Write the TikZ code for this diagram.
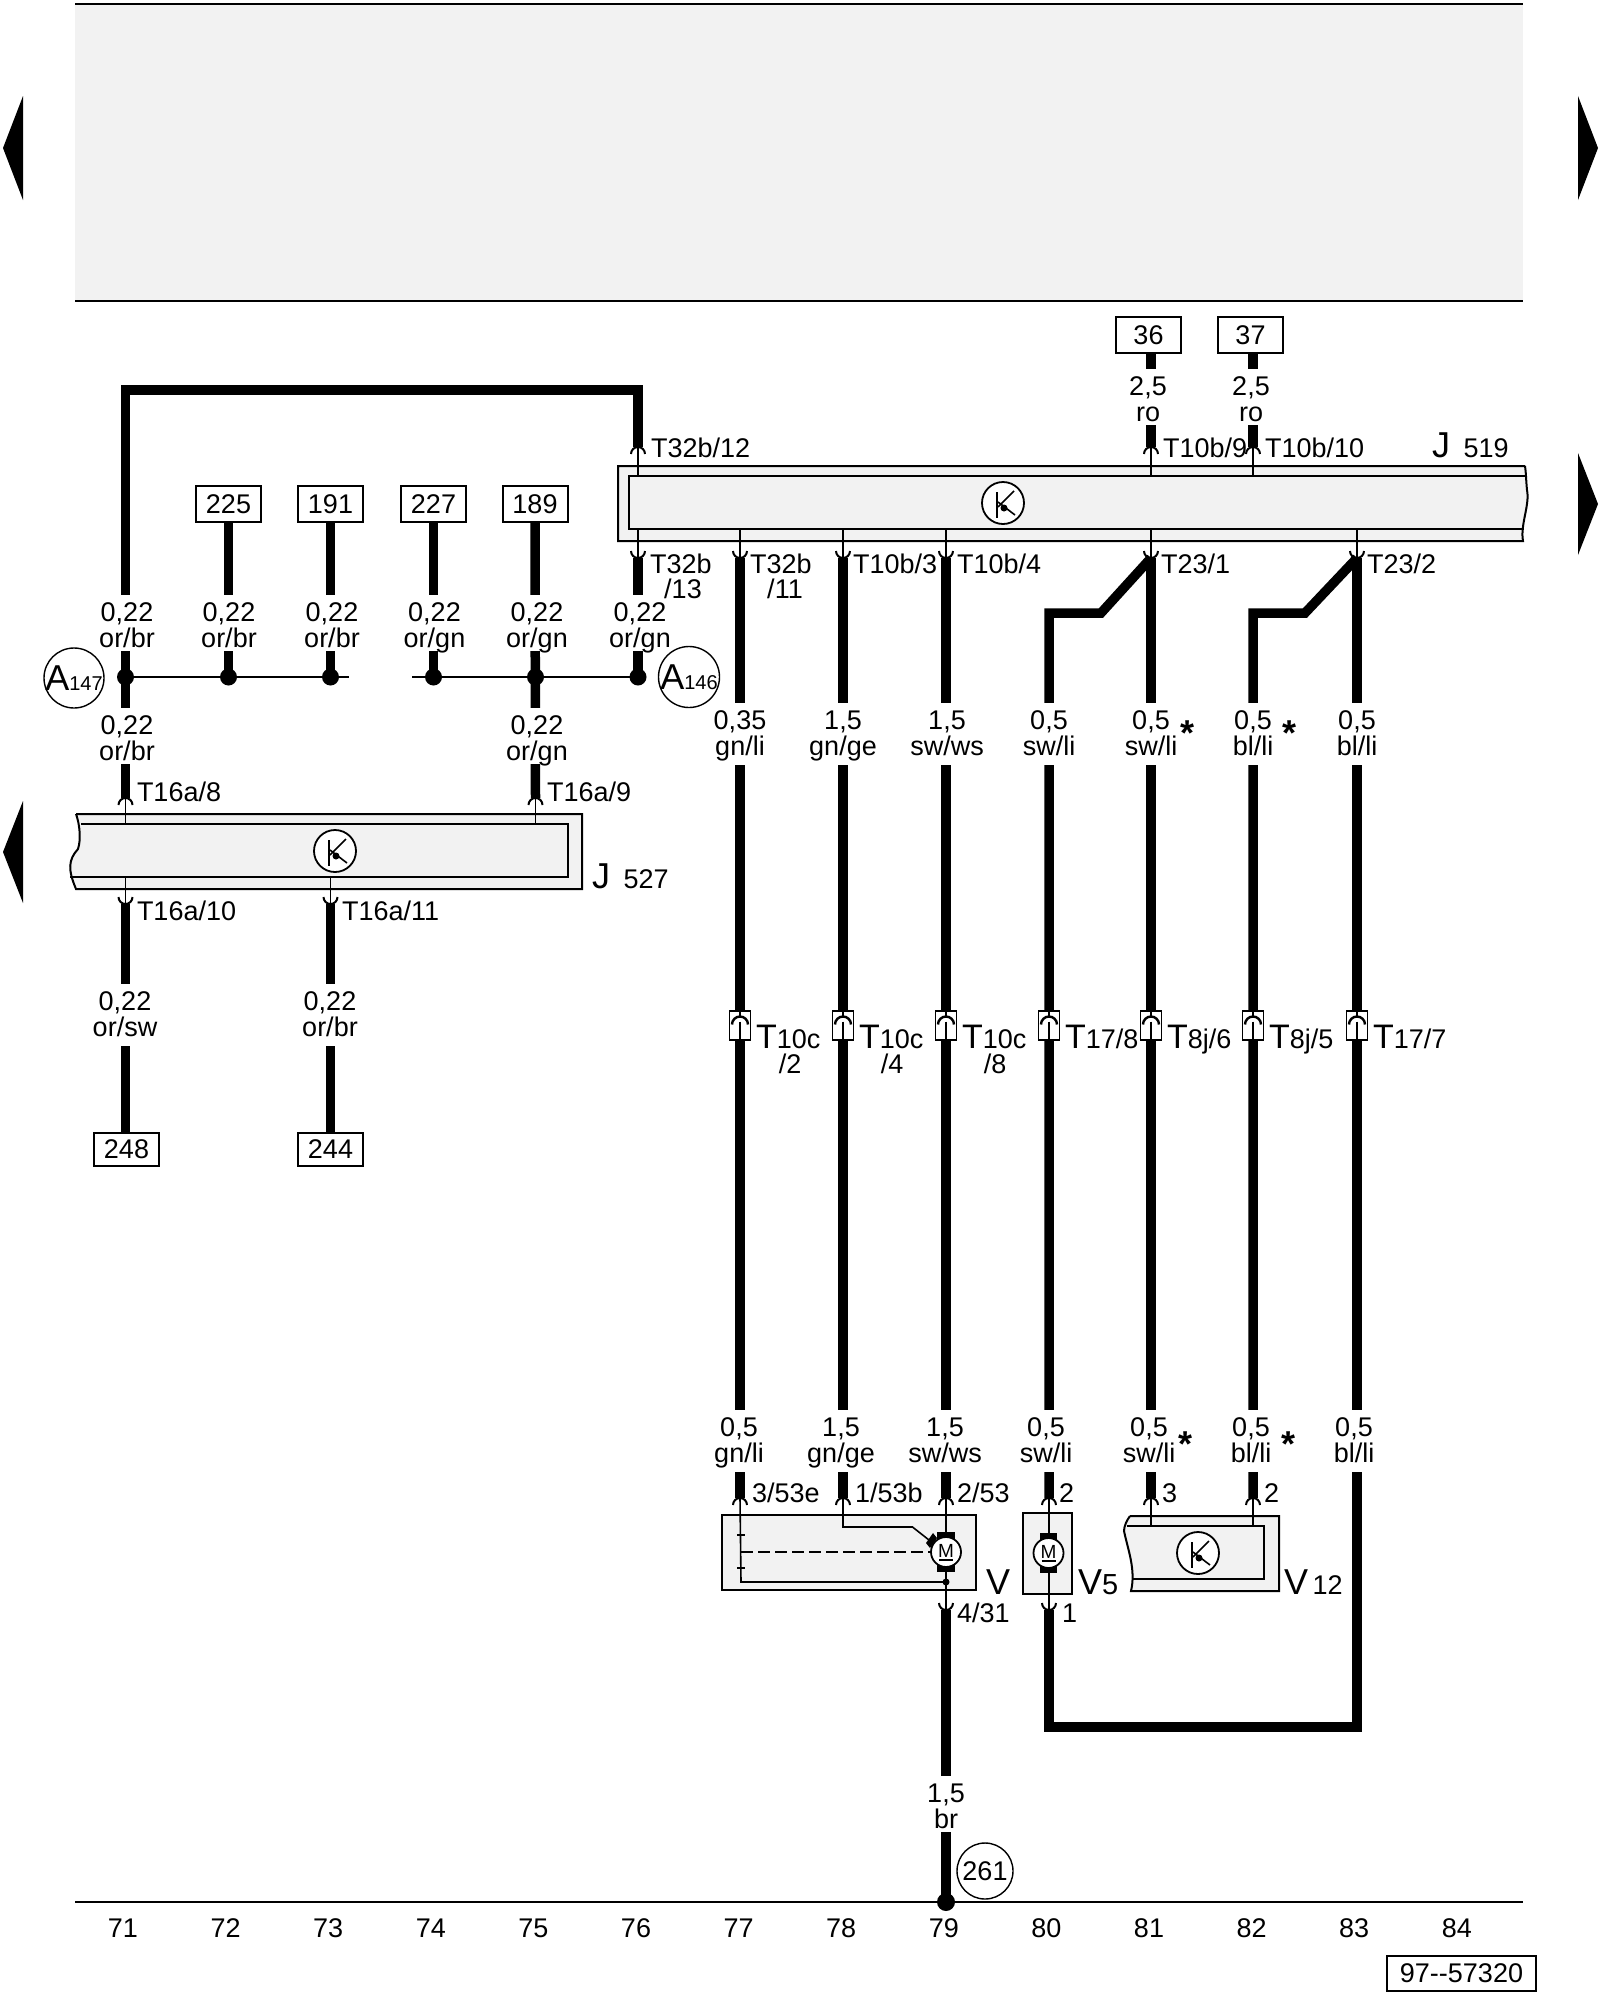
\documentclass[tikz,border=0pt]{standalone}
\usepackage{fontspec}
\setmainfont{Liberation Sans}
\newcommand{\bigsize}{\fontsize{36}{36}\selectfont}
\newcommand{\smallsize}{\fontsize{20}{20}\selectfont}
\tikzset{
  wire/.style={line width=9.5pt},
  thinwire/.style={line width=1.6pt},
  modfill/.style={fill=black!5,draw=black,line width=2pt},
  boxnr/.style={draw,line width=2pt,fill=white,minimum width=65,minimum height=36,inner sep=0},
  wlabel/.style={align=center,fill=white,inner sep=0,text height=52pt,text depth=4pt,anchor=north},
  wlabelB/.style={wlabel,text depth=10pt},
  pinlabel/.style={anchor=base west,inner sep=0},
  sublabel/.style={anchor=base,inner sep=0},
  starlabel/.style={anchor=base,inner sep=0,font=\fontsize{36}{36}\selectfont\bfseries},
  busdot/.style={circle,fill=black,inner sep=0,minimum size=17},
  circmark/.style={circle,draw,line width=1.4pt,inner sep=0,minimum size=#1},
  pics/pinup/.style={code={\draw[thinwire,line width=2pt] (-7,7) arc (180:360:7);}},
  pics/pindown/.style={code={\draw[thinwire,line width=2pt] (-7,-7) arc (180:0:7);}},
  pics/plug/.style={code={
    \draw[line width=1.6pt,fill=white] (-10.5,-14.5) rectangle (10.5,14.5);
    \draw[thinwire] (0,-14.5) -- (0,-8);
    \draw[line width=2.4pt] (-8,-1) arc (180:360:8);
    \draw[thinwire] (0,-4) -- (0,14.5);
  }},
  pics/tsym/.style={code={
    \draw[line width=1.8pt,fill=white] (0,0) circle [radius=21];
    \draw[line width=1.8pt] (-6,-11) -- (-6,15);
    \draw[line width=1.6pt] (-5,4) -- (11,-12);
    \draw[line width=1.6pt] (-5,-1) -- (12,12);
    \fill (1,5) circle [radius=3.5];
  }},
  pics/motor/.style={code={
    \fill (-8.7,-20) rectangle (8.7,-11);
    \fill (-8.7,11) rectangle (8.7,20);
    \draw[line width=1.8pt,fill=white] (0,0) circle [radius=15];
    \node[inner sep=0,font=\fontsize{19}{19}\selectfont] (-m) at (0,-1.5) {M};
    \draw[line width=1.5pt] (-7,8) -- (7,8);
  }}
}
\begin{document}
\begin{tikzpicture}[x=1pt,y=-1pt,line width=2pt,
  every node/.style={font=\fontsize{27}{26}\selectfont}]
\useasboundingbox (0,0) rectangle (1600,2000);

% page frame
\fill[black!5] (75,4) rectangle (1523,301);
\draw (75,4) -- (1523,4);
\draw (75,301) -- (1523,301);
\draw (75,1902) -- (1523,1902);
\fill (3,148) -- (23,96) -- (23,200) -- cycle;
\fill (1598,148) -- (1578,96) -- (1578,200) -- cycle;
\fill (1598,504) -- (1578,453) -- (1578,555) -- cycle;
\fill (3,852) -- (23,801) -- (23,903) -- cycle;
\foreach \n [count=\i from 0] in {71,...,84}
  \node (n\n) at ({123+102.6*\i},1928) {\n};
\node[draw,line width=2pt,minimum width=149,minimum height=35,inner sep=0] (refnr) at (1461.5,1973.5) {97-{}-57320};

% numbered boxes
\node[boxnr] (b36) at (1148.5,335) {36};
\node[boxnr] (b37) at (1250.5,335) {37};
\foreach \n/\x in {225/228.5,191/330.5,227/433.5,189/535}
  \node[boxnr] (b\n) at (\x,504) {\n};
\foreach \n/\x in {248/126.5,244/330.5}
  \node[boxnr,minimum height=33] (b\n) at (\x,1149.5) {\n};

% J 519
\path[modfill] (1525,466) -- (618,466) -- (618,541) -- (1523,541)
  .. controls (1520,525) and (1530,505) .. (1527,490)
  .. controls (1526,480) and (1526,472) .. (1525,466);
\draw (1527,476) -- (629,476) -- (629,529) -- (1524,529);
\pic at (1003,503) {tsym};
% J 527
\path[modfill] (76,814) -- (582,814) -- (582,889) -- (76,889)
  .. controls (68,870) and (68,860) .. (78,849)
  .. controls (81,840) and (80,825) .. (76,814);
\draw (81,824) -- (567.5,824) -- (567.5,877) -- (70,877);
\pic at (335,851) {tsym};
% V, V 5, V 12
\node[draw,modfill,minimum width=254,minimum height=75] (mV) at (849,1552.5) {};
\node[draw,modfill,minimum width=49,minimum height=81] (mVf) at (1047.5,1553.5) {};
\path[modfill] (1130,1516) -- (1279,1516) -- (1279,1591) -- (1131,1591)
  .. controls (1136,1570) and (1128,1550) .. (1124,1531)
  .. controls (1124,1526) and (1127,1520) .. (1130,1516);
\draw (1127,1526) -- (1264,1526) -- (1264,1579) -- (1133,1579);
\pic at (1198,1553) {tsym};

% pins
\foreach \n/\x in {76/638,81/1151,82/1253} {
  \coordinate (ju\n) at (\x,447);
  \pic at (ju\n) {pinup};
  \draw[thinwire] (ju\n) -- (\x,476);
}
\foreach \n/\x in {76/638,77/740,78/843,79/946,81/1151,83/1357} {
  \coordinate (jd\n) at (\x,558);
  \pic at (jd\n) {pindown};
  \draw[thinwire] (\x,529) -- (jd\n);
}
\foreach \n/\x in {71/125.5,75/535.5} {
  \coordinate (ku\n) at (\x,798);
  \pic at (ku\n) {pinup};
  \draw[thinwire] (ku\n) -- (\x,824);
}
\foreach \n/\x in {71/125.5,73/330.5} {
  \coordinate (kd\n) at (\x,904);
  \pic at (kd\n) {pindown};
  \draw[thinwire] (\x,877) -- (kd\n);
}
\foreach \n/\x in {77/740,78/843,79/946,80/1049,81/1151,82/1253} {
  \coordinate (mu\n) at (\x,1498);
  \pic at (mu\n) {pinup};
}
\foreach \n/\x in {79/946,80/1049} {
  \coordinate (md\n) at (\x,1610);
  \pic at (md\n) {pindown};
}
\draw[thinwire] (mu81) -- (1151,1526);
\draw[thinwire] (mu82) -- (1253,1526);

% inside V and V 5
\draw[thinwire] (mu77) -- (741,1582) -- (946,1582);
\draw[thinwire] (mu78) -- (843,1527) -- (912.5,1527) -- (929,1540);
\draw[thinwire] (mu79) -- (md79);
\draw[thinwire] (mu80) -- (md80);
\draw[thinwire,dash pattern=on 12pt off 5pt] (741,1552) -- (930,1552);
\draw[thinwire] (737,1535) -- (745,1535);
\draw[thinwire] (737,1568) -- (745,1568);
\fill (926,1543) -- (933,1533) -- (937,1538) -- (930,1548) -- cycle;
\fill (946,1582) circle [radius=3.5];
\pic at (946,1552) {motor};
\pic at (1048.5,1553) {motor};

% bus dots
\foreach \n/\x in {71/125.5,72/228.5,73/330.5,74/433.5,75/535.5,76/638}
  \node[busdot] (d\n) at (\x,677) {};
\coordinate (busA) at (349,677);
\coordinate (busB) at (412,677);
\draw (d71.center) -- (busA);
\draw (busB) -- (d76.center);

% wires
\coordinate (loop) at (638,390);
\coordinate (hi80) at (1101,613);
\coordinate (ki80) at (1049,613);
\coordinate (hi82) at (1305,613);
\coordinate (ki82) at (1253,613);
\coordinate (lo80) at (1049,1727);
\coordinate (lo83) at (1357,1727);
\node[busdot,minimum size=18] (earth) at (946,1902) {};
\draw[wire] (ku71) |- (loop) -- (ju76);
\draw[wire] (jd76) -- (d76.center);
\draw[wire] (b225.south) -- (d72.center);
\draw[wire] (b191.south) -- (d73.center);
\draw[wire] (b227.south) -- (d74.center);
\draw[wire] (b189.south) -- (ku75);
\draw[wire] (kd71) -- (kd71 |- b248.north);
\draw[wire] (kd73) -- (b244.north);
\draw[wire] (b36.south -| ju81) -- (ju81);
\draw[wire] (b37.south -| ju82) -- (ju82);
\draw[wire] (jd77) -- (mu77);
\draw[wire] (jd78) -- (mu78);
\draw[wire] (jd79) -- (mu79);
\draw[wire] (jd81) -- (mu81);
\draw[wire] (jd81) -- (hi80) -- (ki80) -- (mu80);
\draw[wire] (jd83) -- (hi82) -- (ki82) -- (mu82);
\draw[wire] (md80) -- (lo80) -- (lo83) -- (jd83);
\draw[wire] (md79) -- (earth.center);

% wire labels
\node[wlabel] (w36) at (1148,368) {2,5\\ro};
\node[wlabel] (w37) at (1251,368) {2,5\\ro};
\foreach \n/\x/\c in {a/127/{or/br},b/229/{or/br},c/332/{or/br},d/434.5/{or/gn},e/537/{or/gn},f/640/{or/gn}}
  \node[wlabel] (w\n) at (\x,594) {0,22\\\c};
\node[wlabel] (wg) at (127,707) {0,22\\or/br};
\node[wlabel] (wh) at (537,707) {0,22\\or/gn};
\node[wlabelB] (wi) at (125,983) {0,22\\or/sw};
\node[wlabelB] (wj) at (330,983) {0,22\\or/br};
\foreach \n/\x/\s/\c in {77/740/{0,35}/{gn/li},78/843/{1,5}/{gn/ge},79/947/{1,5}/{sw/ws},80/1049/{0,5}/{sw/li},81/1151/{0,5}/{sw/li},82/1253/{0,5}/{bl/li},83/1357/{0,5}/{bl/li}}
  \node[wlabelB] (wt\n) at (\x,702) {\s\\\c};
\foreach \n/\x/\s/\c in {77/739/{0,5}/{gn/li},78/841/{1,5}/{gn/ge},79/945/{1,5}/{sw/ws},80/1046/{0,5}/{sw/li},81/1149/{0,5}/{sw/li},82/1251/{0,5}/{bl/li},83/1354/{0,5}/{bl/li}}
  \node[wlabelB] (wb\n) at (\x,1409) {\s\\\c};
\node[wlabel] (wk) at (946,1775) {1,5\\br};
\node[starlabel] (s1) at (1187,745) {*};
\node[starlabel] (s2) at (1289,745) {*};
\node[starlabel] (s3) at (1185,1456) {*};
\node[starlabel] (s4) at (1288,1456) {*};

% pin labels
\node[pinlabel] (t1) at (650,457) {T32b/12};
\node[pinlabel] (t2) at (1162,457) {T10b/9};
\node[pinlabel] (t3) at (1264,457) {T10b/10};
\node[pinlabel] (t4) at (649,573) {T32b};
\node[sublabel] (t5) at (683,598) {/13};
\node[pinlabel] (t6) at (749,573) {T32b};
\node[sublabel] (t7) at (785,598) {/11};
\node[pinlabel] (t8) at (852,573) {T10b/3};
\node[pinlabel] (t9) at (956,573) {T10b/4};
\node[pinlabel] (t10) at (1160,573) {T23/1};
\node[pinlabel] (t11) at (1366,573) {T23/2};
\node[pinlabel] (t12) at (136,801) {T16a/8};
\node[pinlabel] (t13) at (546,801) {T16a/9};
\node[pinlabel] (t14) at (136,920) {T16a/10};
\node[pinlabel] (t15) at (341,920) {T16a/11};
\node[pinlabel] (t16) at (751,1502) {3/53e};
\node[pinlabel] (t17) at (854,1502) {1/53b};
\node[pinlabel] (t18) at (956,1502) {2/53};
\node[pinlabel] (t19) at (1058,1502) {2};
\node[pinlabel] (t20) at (1161,1502) {3};
\node[pinlabel] (t21) at (1263,1502) {2};
\node[pinlabel] (t22) at (956,1622) {4/31};
\node[pinlabel] (t23) at (1061,1622) {1};

% module names
\node[pinlabel] (nJa) at (1431,457) {\bigsize J\,\fontsize{27}{27}\selectfont\ 519};
\node[pinlabel] (nJb) at (591,888) {\bigsize J\,\fontsize{27}{27}\selectfont\ 527};
\node[pinlabel] (nV) at (985,1594) {\bigsize V};
\node[pinlabel] (nVf) at (1077,1594) {\bigsize V\fontsize{29}{29}\selectfont 5};
\node[pinlabel] (nVz) at (1283,1594) {\bigsize V\fontsize{27}{27}\selectfont\,12};

% plugs
\foreach \x/\n/\c in {740/a/{10c},843/b/{10c},946/c/{10c},1049/d/{17/8},1151/e/{8j/6},1253/f/{8j/5},1357/g/{17/7}} {
  \pic at (\x,1025.5) {plug};
  \node[pinlabel] (tp\n) at ({\x+15},1048) {\fontsize{34}{34}\selectfont T\fontsize{27}{27}\selectfont\c};
}
\node[sublabel] (tq1) at (790,1073) {/2};
\node[sublabel] (tq2) at (892,1073) {/4};
\node[sublabel] (tq3) at (995,1073) {/8};

% circled marks
\node[circmark=60,label={[inner sep=0,font=\fontsize{36}{36}\selectfont]center:A{\smallsize 147}}] (a147) at (74,678) {};
\node[circmark=61,label={[inner sep=0,font=\fontsize{36}{36}\selectfont]center:A{\smallsize 146}}] (a146) at (689,677) {};
\node[circmark=56] (c261) at (985,1871) {};
\node[inner sep=0] (c261t) at (c261) {261};
\end{tikzpicture}
\end{document}
